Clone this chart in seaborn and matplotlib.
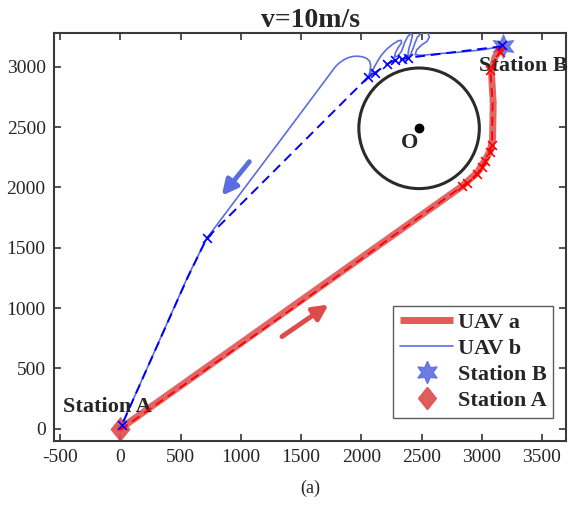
import numpy as np
import pandas as pd
import matplotlib
matplotlib.use("Agg")
import matplotlib.pyplot as plt
from matplotlib.patches import Circle
from matplotlib.lines import Line2D
import seaborn as sns

# ---------------- data ----------------
title = "v=10m/s"
xlabel = "(a)"
x_ticks = [-500, 0, 500, 1000, 1500, 2000, 2500, 3000, 3500]
y_ticks = [0, 500, 1000, 1500, 2000, 2500, 3000]

station_a = (0, 0)
station_b = (3175, 3175)
obstacle_center = (2480, 2490)
obstacle_radius = 500

# UAV a (red) actual trajectory
uav_a_x = [0, 2830, 2960, 3030, 3070, 3090, 3095, 3080, 3110, 3170]
uav_a_y = [0, 2005, 2120, 2230, 2305, 2400, 2700, 2960, 3080, 3170]
# UAV a planned (dashed) path
plan_a_x = [0, 1400, 2836, 2877, 2960, 3002, 3029, 3065, 3085, 3090, 3071, 3148, 3170]
plan_a_y = [-10, 975, 2008, 2034, 2112, 2167, 2223, 2291, 2351, 2700, 2975, 3125, 3170]
wp_a_x = [2836, 2877, 2960, 3002, 3029, 3065, 3085, 3071, 3148]
wp_a_y = [2008, 2034, 2112, 2167, 2223, 2291, 2351, 2975, 3125]

# UAV b (blue) actual trajectory
uav_b_x = [3170, 3000, 2800, 2655, 2500, 2448, 2460, 2500, 2545, 2565, 2555, 2530,
           2495, 2465, 2445, 2425, 2405, 2385, 2395, 2415, 2425, 2410, 2385, 2360,
           2335, 2305, 2275, 2285, 2310, 2335, 2330, 2305, 2265, 2215, 2170, 2140,
           2115, 2090, 2070, 2060, 2072, 2078, 2070, 2045, 2010, 1970, 1930, 1890,
           1850, 1815, 1785, 1330, 717, 560, 12]
uav_b_y = [3170, 3140, 3120, 3110, 3095, 3100, 3140, 3180, 3210, 3245, 3275, 3285,
           3275, 3245, 3195, 3140, 3095, 3085, 3150, 3215, 3265, 3275, 3250, 3200,
           3130, 3090, 3080, 3120, 3165, 3200, 3220, 3215, 3190, 3150, 3100, 3055,
           3010, 2965, 2935, 2918, 2960, 3010, 3045, 3070, 3083, 3088, 3086, 3075,
           3055, 3030, 3000, 2392, 1577, 1260, 27]
# UAV b planned (dashed) path
plan_b_x = [3170, 2392, 2337, 2282, 2212, 2115, 2060, 717, 560, 12]
plan_b_y = [3170, 3075, 3062, 3056, 3021, 2951, 2918, 1577, 1255, 27]
wp_b_x = [3165, 2392, 2337, 2282, 2212, 2115, 2060, 717, 12]
wp_b_y = [3178, 3075, 3062, 3056, 3021, 2951, 2918, 1577, 27]

# direction arrows (tail -> head)
arrow_a = [(1342, 763), (1729, 1029)]
arrow_b = [(1071, 2213), (842, 1931)]

# ---------------- style ----------------
sns.set_style("ticks")
plt.rcParams["font.family"] = ["Liberation Serif", "DejaVu Serif"]

RED = "#DE4B4B"
BLUE = "#5B6EE0"
DIAMOND = [(0, 1), (0.8, 0), (0, -1), (-0.8, 0), (0, 1)]
HEXAGRAM = (6, 1, 0)

fig = plt.figure(figsize=(5.69, 5.12), dpi=100)
ax = fig.add_axes([0.0949, 0.1393, 0.9, 0.7962])

df_a = pd.DataFrame({"x": uav_a_x, "y": uav_a_y})
df_pa = pd.DataFrame({"x": plan_a_x, "y": plan_a_y})
df_b = pd.DataFrame({"x": uav_b_x, "y": uav_b_y})
df_pb = pd.DataFrame({"x": plan_b_x, "y": plan_b_y})

sns.lineplot(data=df_a, x="x", y="y", sort=False, estimator=None, color=RED,
             lw=5, alpha=0.85, ax=ax, zorder=3)
sns.lineplot(data=df_pa, x="x", y="y", sort=False, estimator=None, color="red",
             lw=1.3, ax=ax, zorder=4, linestyle=(0, (5, 3)))
sns.scatterplot(x=wp_a_x, y=wp_a_y, marker="x", color="red", s=40, linewidth=1.2,
                ax=ax, zorder=5)

sns.lineplot(data=df_b, x="x", y="y", sort=False, estimator=None, color=BLUE,
             lw=1.2, ax=ax, zorder=3)
sns.lineplot(data=df_pb, x="x", y="y", sort=False, estimator=None, color="blue",
             lw=1.4, ax=ax, zorder=4, linestyle=(0, (5, 3)))
sns.scatterplot(x=wp_b_x, y=wp_b_y, marker="x", color="blue", s=40, linewidth=1.2,
                ax=ax, zorder=5)

# stations
sns.scatterplot(x=[station_b[0]], y=[station_b[1]], marker=HEXAGRAM, s=300,
                color=BLUE, alpha=0.9, edgecolor=BLUE, linewidth=0.5, ax=ax, zorder=2)
sns.scatterplot(x=[station_a[0]], y=[station_a[1]], marker=DIAMOND, s=300,
                color=RED, alpha=0.9, edgecolor=RED, linewidth=0.5, ax=ax, zorder=2)

# obstacle
ax.add_patch(Circle(obstacle_center, obstacle_radius, fill=False, lw=2.2,
                    ec="#2b2b2b", zorder=2))
ax.plot([obstacle_center[0]], [obstacle_center[1]], "o", color="black", ms=6)
ax.text(obstacle_center[0] - 75, obstacle_center[1] - 120, "O", fontsize=16,
        fontweight="bold", ha="center", va="center")

# labels
ax.text(2975, 3010, "Station B", fontsize=16, fontweight="bold", ha="left", va="center")
ax.text(-475, 177, "Station A", fontsize=16, fontweight="bold", ha="left", va="center")

# arrows
ax.annotate("", xy=arrow_a[1], xytext=arrow_a[0],
            arrowprops=dict(arrowstyle="-|>,head_length=0.9,head_width=0.45",
                            color=RED, lw=3.5, shrinkA=0, shrinkB=0))
ax.annotate("", xy=arrow_b[1], xytext=arrow_b[0],
            arrowprops=dict(arrowstyle="-|>,head_length=0.9,head_width=0.45",
                            color=BLUE, lw=3.5, shrinkA=0, shrinkB=0))

ax.set_xlim(-550, 3700)
ax.set_ylim(-100, 3280)
ax.set_xticks(x_ticks)
ax.set_yticks(y_ticks)
ax.set_xticklabels([str(t) for t in x_ticks])
ax.set_yticklabels([str(t) for t in y_ticks])
ax.tick_params(direction="in", top=True, right=True, length=5, width=1.2,
               labelsize=14, color="#333333", pad=6)
for s in ax.spines.values():
    s.set_linewidth(1.5)
    s.set_color("#3a3a3a")
ax.set_xlabel(xlabel, fontsize=13, labelpad=10)
ax.set_ylabel("")
ax.set_title(title, fontsize=20, fontweight="bold", pad=4)

handles = [
    Line2D([], [], color=RED, lw=5, alpha=0.9, solid_capstyle="butt"),
    Line2D([], [], color=BLUE, lw=1.2),
    Line2D([], [], color=BLUE, marker=HEXAGRAM, ms=16, lw=0, alpha=0.9),
    Line2D([], [], color=RED, marker=DIAMOND, ms=16, lw=0, alpha=0.9),
]
labels = ["UAV a", "UAV b", "Station B", "Station A"]
leg = ax.legend(handles, labels, loc="lower right", bbox_to_anchor=(0.975, 0.056),
                borderaxespad=0, fancybox=False, frameon=True, handlelength=2.4,
                handletextpad=0.2, labelspacing=0.25, borderpad=0.3,
                prop={"size": 16, "weight": "bold"})
leg.get_frame().set_edgecolor("#333333")
leg.get_frame().set_linewidth(1.0)

fig.savefig("out.png", dpi=100)
